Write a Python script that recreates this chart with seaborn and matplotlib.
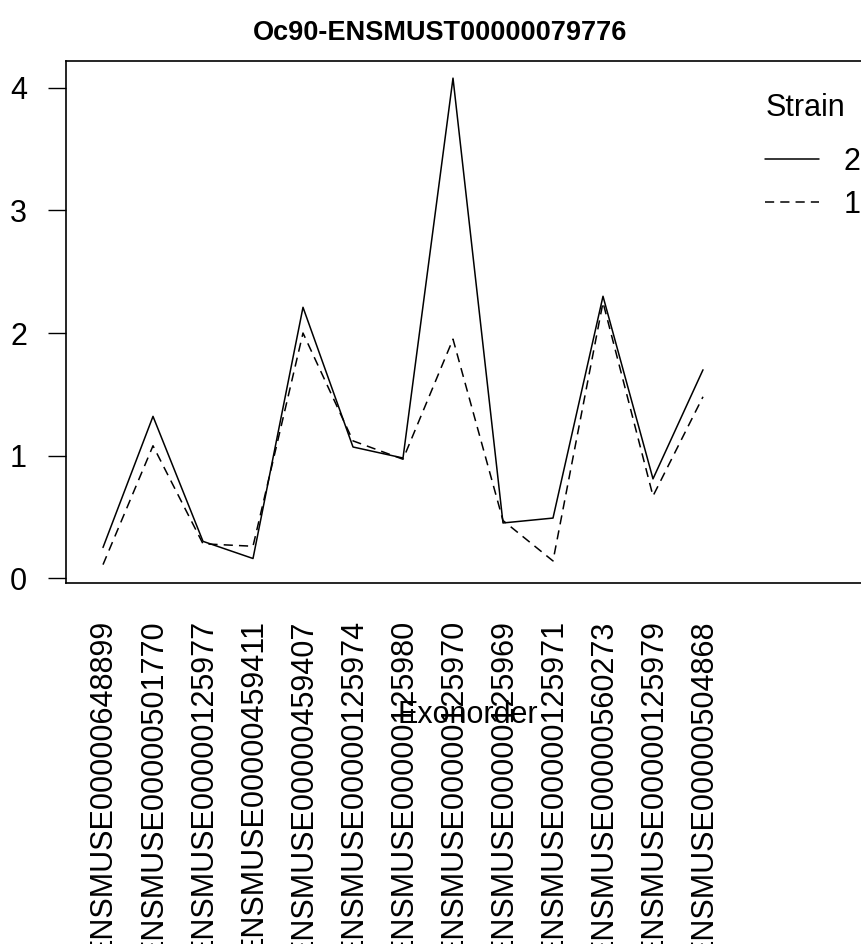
import numpy as np
import pandas as pd
import matplotlib
matplotlib.use("Agg")
import matplotlib.pyplot as plt
import seaborn as sns

title = "Oc90-ENSMUST00000079776"
exons = ["ENSMUSE00000648899", "ENSMUSE00000501770", "ENSMUSE00000125977",
         "ENSMUSE00000459411", "ENSMUSE00000459407", "ENSMUSE00000125974",
         "ENSMUSE00000125980", "ENSMUSE00000125970", "ENSMUSE00000125969",
         "ENSMUSE00000125971", "ENSMUSE00000560273", "ENSMUSE00000125979",
         "ENSMUSE00000504868"]
strain2 = [0.25, 1.32, 0.30, 0.16, 2.21, 1.07, 0.98, 4.08, 0.45, 0.49, 2.30, 0.81, 1.70]
strain1 = [0.11, 1.08, 0.28, 0.26, 2.00, 1.12, 0.97, 1.95, 0.47, 0.14, 2.25, 0.67, 1.48]

pos = np.arange(len(exons))
df = pd.DataFrame({
    "pos": np.concatenate([pos, pos]),
    "value": strain2 + strain1,
    "Strain": ["2"] * len(pos) + ["1"] * len(pos),
})

sns.set_style("white")
plt.rcParams["font.family"] = ["Liberation Sans", "DejaVu Sans"]
plt.rcParams["text.color"] = "black"
plt.rcParams["xtick.color"] = "black"
plt.rcParams["ytick.color"] = "black"
fs = 22

fig = plt.figure(figsize=(8.61, 9.44), dpi=100)
ax = fig.add_axes([66 / 861, 0.3824, 804 / 861, 0.553])

sns.lineplot(data=df, x="pos", y="value", style="Strain", style_order=["2", "1"],
             dashes={"2": "", "1": (6, 4)}, color="black", linewidth=1.1, ax=ax)

ax.set_xlim(-0.74, 15.34)
ax.set_ylim(-0.04, 4.22)
ax.set_xticks(pos)
ax.set_xticklabels(exons, rotation=90, va="top", ha="center", fontsize=fs)
ax.tick_params(axis="x", length=0, pad=26)
ax.set_yticks([0, 1, 2, 3, 4])
ax.set_yticklabels(["0", "1", "2", "3", "4"], fontsize=fs)
ax.tick_params(axis="y", length=13, width=1.0, pad=15, direction="out", left=True)
ax.set_xlabel("")
ax.set_ylabel("")
for sp in ax.spines.values():
    sp.set_visible(True)
    sp.set_color("black")
    sp.set_linewidth(1.2)

leg = ax.legend(title="Strain", frameon=False, loc="upper left",
                bbox_to_anchor=(684 / 804, 0.967), fontsize=fs, title_fontsize=fs,
                handlelength=1.75, handletextpad=0.8, labelspacing=0.42,
                borderpad=0, alignment="left")
leg._legend_box.sep = 17

fig.text(440 / 861, 1 - 33 / 944, title, ha="center", va="center",
         fontsize=19.5, fontweight="bold")
fig.text(468 / 861, 1 - 715 / 944, "Exonorder", ha="center", va="center", fontsize=fs)

fig.savefig("out.png", dpi=100)
